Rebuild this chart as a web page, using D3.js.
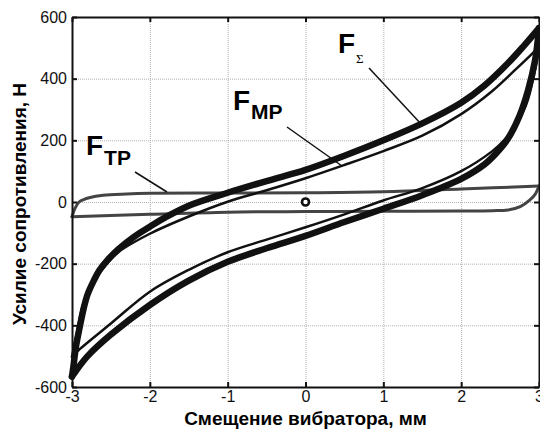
<!DOCTYPE html>
<html>
<head>
<meta charset="utf-8">
<script src="https://cdn.jsdelivr.net/npm/d3@7"></script>
<style>
    body { margin: 0; background: #fff; }
    svg { font-family: "Liberation Sans", Arial, sans-serif; }
    .grid line { stroke: #b0b0b0; stroke-width: 1; stroke-dasharray: 1,1; }
    .grid path { display: none; }
    .tick text { font-size: 16px; fill: #111; }
</style>
</head>
<body>
<script>
// F_sum loop (thick), upper and lower branches
var sumUpX = [-3, -2.98, -2.95, -2.9, -2.85, -2.8, -2.72, -2.65, -2.55, -2.4, -2.2, -2.0, -1.8, -1.5, -1.0, -0.5, 0, 0.5, 1.0, 1.5, 2.0, 2.3, 2.6, 2.8, 3];
var sumUpY = [-566, -530, -470, -405, -345, -300, -255, -222, -190, -152, -112, -80, -50, -12, 30, 68, 104, 150, 200, 255, 322, 378, 450, 505, 564];
var sumDnX = [-3, -2.95, -2.8, -2.5, -2.0, -1.5, -1.0, -0.5, 0, 0.5, 1.0, 1.5, 2.0, 2.3, 2.45, 2.6, 2.75, 2.86, 2.95, 2.98, 3];
var sumDnY = [-566, -548, -500, -430, -334, -255, -194, -150, -110, -65, -22, 22, 75, 122, 158, 205, 280, 363, 460, 515, 564];

// F_MP loop (thin)
var mpUpX = [-3, -2.95, -2.86, -2.8, -2.7, -2.55, -2.4, -2.0, -1.5, -1.0, -0.5, 0, 0.5, 1.0, 1.5, 2.0, 2.4, 2.7, 2.9, 3];
var mpUpY = [-502, -440, -334, -295, -250, -200, -162, -103, -47, 1, 38, 77, 120, 165, 215, 285, 360, 430, 478, 504];
var mpDnX = [-3, -2.94, -2.5, -2.0, -1.5, -1.0, -0.5, 0, 0.5, 1.0, 1.5, 2.0, 2.4, 2.55, 2.7, 2.8, 2.86, 2.95, 3];
var mpDnY = [-502, -486, -394, -291, -220, -163, -122, -82, -40, 5, 45, 100, 165, 200, 250, 295, 334, 430, 504];

// F_TP loop (gray)
var tpUpX = [-3, -2.96, -2.91, -2.85, -2.78, -2.6, -2.3, -2.0, -1.0, 0, 1.0, 2.0, 3];
var tpUpY = [-48, -20, 0, 8, 14, 22, 26, 28, 29, 30, 33, 42, 52];
var tpDnX = [-3, -2.0, -1.0, 0, 1.0, 2.0, 2.4, 2.6, 2.76, 2.88, 2.95, 3];
var tpDnY = [-48, -40, -33, -31, -30, -29, -28, -26, -15, 6, 25, 52];

// Ticks
var xTicks = [-3, -2, -1, 0, 1, 2, 3];
var yTicks = [-600, -400, -200, 0, 200, 400, 600];

drawChart();

function drawChart() {

    // Frame
    var width = 540,
        height = 430,
        x0 = 72, x1 = 539, y0 = 17, y1 = 387;

    var svg = d3.select("body")
        .append("svg")
        .attr("width", width)
        .attr("height", height);

    var x = d3.scaleLinear().domain([-3, 3]).range([x0, x1]);
    var y = d3.scaleLinear().domain([-600, 600]).range([y1, y0]);
    var fmt = function (d) { return String(d); };

    // Dotted grid
    svg.append("g")
        .attr("class", "grid")
        .attr("transform", "translate(0," + y1 + ")")
        .call(d3.axisBottom(x).tickValues(xTicks.slice(1, -1)).tickSize(-(y1 - y0)).tickFormat(""));
    svg.append("g")
        .attr("class", "grid")
        .attr("transform", "translate(" + x0 + ",0)")
        .call(d3.axisLeft(y).tickValues(yTicks.slice(1, -1)).tickSize(-(x1 - x0)).tickFormat(""));

    // Build a path from two arrays
    function pts(xs, ys) {
        return xs.map(function (d, i) { return [d, ys[i]]; });
    }
    var line = d3.line()
        .x(function (d) { return x(d[0]); })
        .y(function (d) { return y(d[1]); })
        .curve(d3.curveCatmullRom.alpha(0.5));

    var series = [
        { up: pts(tpUpX, tpUpY), dn: pts(tpDnX, tpDnY), color: "#444", w: 3 },
        { up: pts(sumUpX, sumUpY), dn: pts(sumDnX, sumDnY), color: "#111", w: 6.5 },
        { up: pts(mpUpX, mpUpY), dn: pts(mpDnX, mpDnY), color: "#111", w: 2.5 }
    ];

    series.forEach(function (s) {
        [s.up, s.dn].forEach(function (b) {
            svg.append("path")
                .datum(b)
                .attr("d", line)
                .attr("fill", "none")
                .attr("stroke", s.color)
                .attr("stroke-width", s.w)
                .attr("stroke-linejoin", "round")
                .attr("stroke-linecap", "round");
        });
    });

    // Marker at origin
    svg.append("circle")
        .attr("cx", x(0))
        .attr("cy", y(0))
        .attr("r", 3.5)
        .attr("fill", "#fff")
        .attr("stroke", "#111")
        .attr("stroke-width", 2.6);

    // Axes with inward ticks
    var axB = svg.append("g")
        .attr("transform", "translate(0," + y1 + ")")
        .call(d3.axisBottom(x).tickValues(xTicks).tickSizeInner(-5).tickSizeOuter(0).tickPadding(4).tickFormat(fmt));
    var axL = svg.append("g")
        .attr("transform", "translate(" + x0 + ",0)")
        .call(d3.axisLeft(y).tickValues(yTicks).tickSizeInner(-5).tickSizeOuter(0).tickPadding(5).tickFormat(fmt));
    var axT = svg.append("g")
        .attr("transform", "translate(0," + y0 + ")")
        .call(d3.axisTop(x).tickValues(xTicks).tickSizeInner(-5).tickSizeOuter(0).tickFormat(""));
    var axR = svg.append("g")
        .attr("transform", "translate(" + x1 + ",0)")
        .call(d3.axisRight(y).tickValues(yTicks).tickSizeInner(-5).tickSizeOuter(0).tickFormat(""));

    [axB, axL, axT, axR].forEach(function (a) {
        a.select(".domain").attr("stroke", "#111").attr("stroke-width", 2);
        a.selectAll(".tick line").attr("stroke", "#111").attr("stroke-width", 2);
    });

    // Axis titles
    svg.append("text")
        .attr("x", (x0 + x1) / 2)
        .attr("y", 425)
        .attr("text-anchor", "middle")
        .attr("font-weight", "bold")
        .attr("font-size", 19)
        .text("Смещение вибратора, мм");

    svg.append("text")
        .attr("transform", "translate(26," + ((y0 + y1) / 2 + 2) + ") rotate(-90)")
        .attr("text-anchor", "middle")
        .attr("font-weight", "bold")
        .attr("font-size", 19)
        .text("Усилие сопротивления, Н");

    // Curve labels with leader lines
    function label(xp, yp, sub, subSize, subDy, serif) {
        var t = svg.append("text")
            .attr("x", xp)
            .attr("y", yp)
            .attr("font-weight", "bold")
            .attr("font-size", 28)
            .text("F");
        t.append("tspan")
            .attr("dx", 1)
            .attr("dy", subDy)
            .attr("font-size", subSize)
            .attr("font-weight", serif ? "normal" : "bold")
            .attr("font-family", serif ? "'Liberation Serif', serif" : null)
            .text(sub);
    }
    label(86, 155, "TP", 21, 10, false);
    label(233, 110, "MP", 21, 9, false);
    label(338, 53, "Σ", 13, 10, true);

    var leaders = [[135, 172, 167, 192], [287, 127, 342, 166], [369, 68, 422, 125]];
    leaders.forEach(function (l) {
        svg.append("line")
            .attr("x1", l[0]).attr("y1", l[1])
            .attr("x2", l[2]).attr("y2", l[3])
            .attr("stroke", "#111")
            .attr("stroke-width", 1.5);
    });
}
</script>
</body>
</html>
